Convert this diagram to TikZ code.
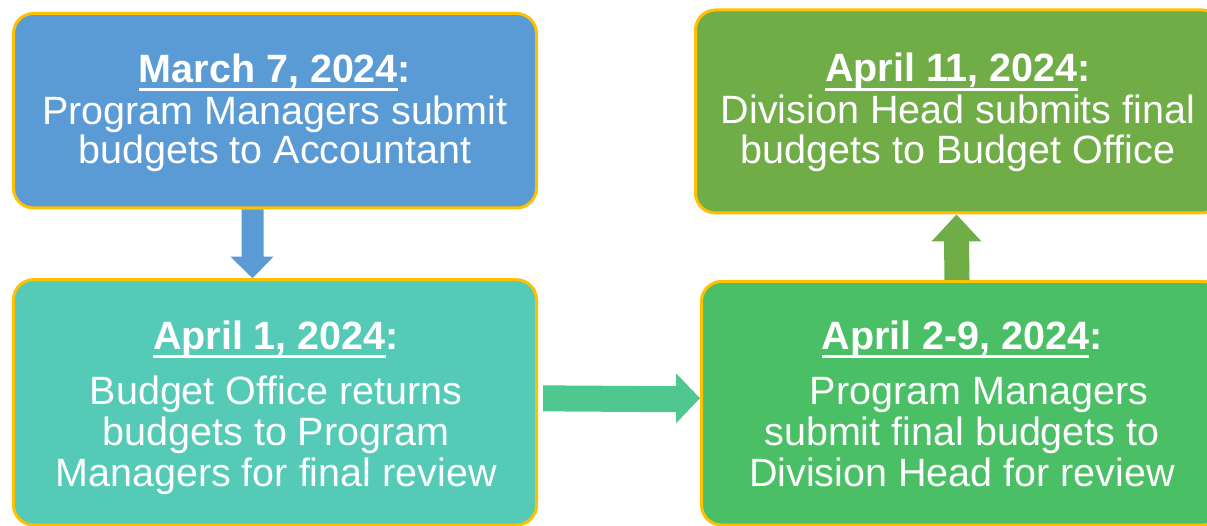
\documentclass[tikz,border=0pt]{standalone}
\usepackage{fontspec}
\setmainfont{Liberation Sans}
\usetikzlibrary{calc}
\definecolor{rim}{HTML}{FFC000}
\definecolor{blueA}{HTML}{5B9BD5}
\definecolor{tealA}{HTML}{54CAB7}
\definecolor{mintA}{HTML}{50C690}
\definecolor{greenA}{HTML}{4ABF66}
\definecolor{oliveA}{HTML}{70AD47}
% bold, underlined date followed by a bold colon
\newcommand{\datehead}[1]{\setbox0\hbox{\bfseries #1}\rlap{\rule[-9pt]{\wd0}{3pt}}\box0\textbf{:}}
\begin{document}
\begin{tikzpicture}[x=1pt,y=-1pt,
  stagebox/.style={draw=rim, line width=3pt, rounded corners=20pt, inner sep=0pt},
  % base anchor of a multi-line node sits on the baseline of its last line
  stagetext/.style={text=white, align=center, anchor=base, inner sep=0pt},
  tight/.style={font=\fontsize{39.5}{39.5}\selectfont},
  loose/.style={font=\fontsize{39.5}{41}\selectfont},
]
\useasboundingbox (0,0) rectangle (1207,526);
\clip (0,0) rectangle (1207,526);
\fill[white] (0,0) rectangle (1207,526);

% stage boxes
\node[stagebox, fill=blueA,  minimum width=523pt,   minimum height=194.5pt] (b1) at (275,110.75) {};
\node[stagebox, fill=tealA,  minimum width=523pt,   minimum height=245.3pt] (b2) at (275,402.35) {};
\node[stagebox, fill=oliveA, minimum width=526.5pt, minimum height=203pt]   (b3) at (958.75,111.5) {};
\node[stagebox, fill=greenA, minimum width=522.5pt, minimum height=243.5pt] (b4) at (962.75,403.25) {};

% stage texts
\node[stagetext, tight] (t1) at (275,164)
  {\datehead{March 7, 2024}\\[2.5pt] Program Managers submit\\ budgets to Accountant};
\node[stagetext, loose] (t2) at (276,486)
  {\datehead{April 1, 2024}\\[14pt] Budget Office returns\\ budgets to Program\\ Managers for final review};
\node[stagetext, tight] (t3) at (958,163.5)
  {\datehead{April 11, 2024}\\[2.5pt] Division Head submits final\\ budgets to Budget Office};
\node[stagetext, loose] (t4) at (962,486)
  {\datehead{April 2-9, 2024}\\[14pt] \hspace*{34pt}Program Managers\\ submit final budgets to\\ Division Head for review};

% block arrows between the stages
\coordinate (d1) at ($(b1.south west)+(240.5,0)$);
\coordinate (d2) at ($(b2.north west)+(240.5,0)$);
\fill[blueA] ($(d1)+(-11,0)$) -- ($(d2)+(-11,-21.5)$) -- ($(d2)+(-22,-21.5)$) -- (d2)
  -- ($(d2)+(21,-21.5)$) -- ($(d2)+(11,-21.5)$) -- ($(d1)+(11,0)$) -- cycle;

\coordinate (r1) at ($(b2.east)+(5,-4)$);
\coordinate (r2) at ($(b4.west)+(0,-5)$);
\fill[mintA] ($(r1)+(0,-13)$) -- ($(r2)+(-24,-12)$) -- ($(r2)+(-24,-25)$) -- (r2)
  -- ($(r2)+(-24,25)$) -- ($(r2)+(-24,14)$) -- ($(r1)+(0,13)$) -- cycle;

\coordinate (u1) at ($(b4.north west)+(257,0)$);
\coordinate (u2) at ($(b3.south west)+(262.5,0)$);
\fill[oliveA] ($(u1)+(-12.5,0)$) -- ($(u2)+(-12.5,27)$) -- ($(u2)+(-25,27)$) -- (u2)
  -- ($(u2)+(25,27)$) -- ($(u2)+(12.5,27)$) -- ($(u1)+(12.5,0)$) -- cycle;
\end{tikzpicture}
\end{document}
